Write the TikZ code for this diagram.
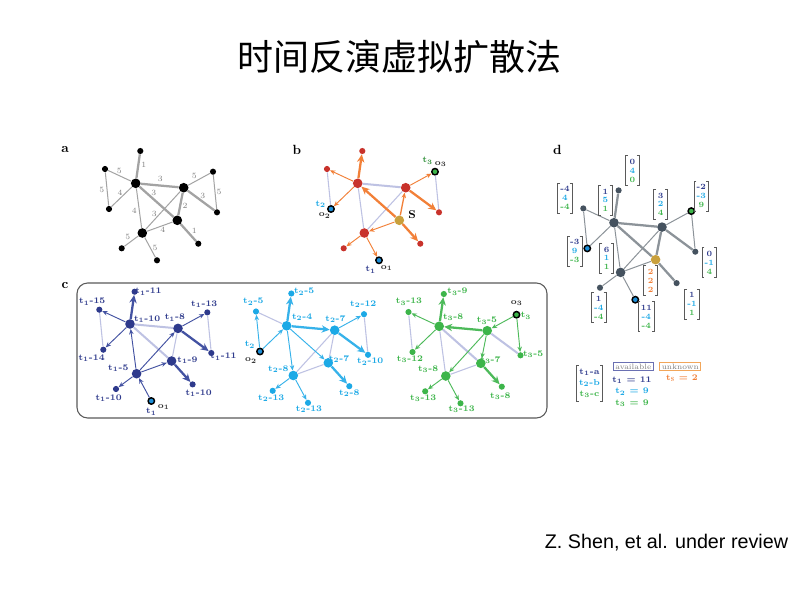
\documentclass[tikz,border=0pt]{standalone}
\usepackage{fontspec}
\newfontfamily\cjkf{Noto Sans CJK SC}
\newfontfamily\arialf{Liberation Sans}
\usetikzlibrary{arrows.meta}
\definecolor{cdb}{HTML}{2E3A8C}
\definecolor{cdbl}{HTML}{4352A2}
\definecolor{clb}{HTML}{1CA9E6}
\definecolor{clbl}{HTML}{36B2EA}
\definecolor{cgr}{HTML}{3DB54A}
\definecolor{cgrl}{HTML}{4DBA5A}
\definecolor{corg}{HTML}{F28038}
\definecolor{cred}{HTML}{C8322B}
\definecolor{cgold}{HTML}{C9A03C}
\definecolor{clav}{HTML}{BEC2E3}
\definecolor{cslate}{HTML}{45525F}
\definecolor{cgray}{HTML}{A3A3A3}
\definecolor{cdgray}{HTML}{8C9399}
\definecolor{cobs}{HTML}{1E8FD8}
\definecolor{cbox}{HTML}{5A5A5A}
\definecolor{cavail}{HTML}{6A70B2}
\definecolor{cunk}{HTML}{F2A65A}
\newcommand\ca[1]{\textcolor{cdb}{#1}}
\newcommand\cb[1]{\textcolor{clb}{#1}}
\newcommand\cc[1]{\textcolor{cgr}{#1}}
\newcommand\tl[2]{t$_{#1}$-#2}
\newcommand\mkc[1]{%
 \coordinate (#1-T) at (140.3,151);
 \coordinate (#1-LT) at (105,169);
 \coordinate (#1-LB) at (109,209);
 \coordinate (#1-A) at (135.7,183.3);
 \coordinate (#1-B) at (183.7,187.7);
 \coordinate (#1-RT) at (213,171.7);
 \coordinate (#1-RB) at (217,212.3);
 \coordinate (#1-C) at (177.3,220.3);
 \coordinate (#1-D) at (142.3,233);
 \coordinate (#1-BR) at (198.3,243.7);
 \coordinate (#1-BL) at (121.7,248.3);
 \coordinate (#1-BO) at (157,260.3);
}
\newcommand\vecn[3]{%
 \node[vecb] (#1) at (#2) {#3};
 \draw[brk] ([xshift=1.8pt]#1.north west) -| (#1.south west) -- ([xshift=1.8pt]#1.south west);
 \draw[brk] ([xshift=-1.8pt]#1.north east) -| (#1.south east) -- ([xshift=-1.8pt]#1.south east);
}
\tikzset{
 nb/.style={circle, fill=#1, minimum size=7.2pt, inner sep=0pt},
 ns/.style={circle, fill=#1, minimum size=4.6pt, inner sep=0pt},
 obs/.style={circle, fill=#1, draw=black, line width=1.1pt, minimum size=4.8pt, inner sep=0pt},
 arr/.style={draw=#1, line width=0.7pt, -{Stealth[length=4pt,width=3.4pt]}},
 tarr/.style={draw=#1, line width=1.7pt, -{Stealth[length=6pt,width=5.5pt]}},
 lav/.style={draw=clav, line width=0.8pt},
 lavt/.style={draw=clav, line width=1.5pt},
 ge/.style={draw=#1, line width=0.75pt},
 get/.style={draw=#1, line width=1.7pt},
 elab/.style={text=gray, font=\fontsize{6}{6.5}\selectfont, inner sep=0pt},
 plab/.style={font=\bfseries\fontsize{10}{11}\selectfont, inner sep=0pt},
 tlab/.style={text=#1, font=\bfseries\boldmath\fontsize{6.4}{7}\selectfont, inner sep=0pt},
 vecb/.style={align=center, inner xsep=1.8pt, inner ysep=1.2pt, minimum width=10pt, minimum height=22pt, font=\bfseries\fontsize{6}{6.7}\selectfont},
 brk/.style={draw=cbox, line width=0.6pt},
}
\begin{document}
\begin{tikzpicture}[x=0.75pt,y=-0.75pt]
\useasboundingbox (0,0) rectangle (800,600);
\fill[white] (0,0) rectangle (800,600);
\node[font=\cjkf\fontsize{27}{30}\selectfont, inner sep=0pt] (title) at (399,57) {时间反演虚拟扩散法};
\node[font=\arialf\fontsize{14.8}{17}\selectfont, inner sep=0pt] (ref) at (666.5,543) {Z. Shen, et al. under review};

% coordinates
\mkc{a}
\begin{scope}[shift={(222,0)}]\mkc{b}\end{scope}
\begin{scope}[shift={(-5.7,140.7)}]\mkc{c1}\end{scope}
\begin{scope}[shift={(151,142.5)}]\mkc{c2}\end{scope}
\begin{scope}[shift={(303.5,143)}]\mkc{c3}\end{scope}
\begin{scope}[shift={(478.3,39.4)}]\mkc{d}\end{scope}

% panel letters
\node[plab] (pa) at (65,150) {a};
\node[plab] (pb) at (297,150) {b};
\node[plab] (pc) at (65,286) {c};
\node[plab] (pd) at (557.5,150) {d};

% ===== panel a =====
\foreach \n in {T,LT,LB,RT,RB,BR,BL,BO} \node[ns=black] (a\n) at (a-\n) {};
\foreach \n in {A,B,C,D} \node[nb=black] (a\n) at (a-\n) {};
\draw[get=cgray] (aA) -- (aT);
\draw[ge=cgray] (aA) -- (aLT);
\draw[ge=cgray] (aLT) -- (aLB);
\draw[ge=cgray] (aA) -- (aLB);
\draw[get=cgray] (aA) -- (aB);
\draw[get=cgray] (aA) -- (aC);
\draw[ge=cgray] (aA) -- (aD);
\draw[ge=cgray] (aB) -- (aRT);
\draw[ge=cgray] (aRT) -- (aRB);
\draw[get=cgray] (aB) -- (aRB);
\draw[get=cgray] (aB) -- (aC);
\draw[ge=cgray] (aB) -- (aD);
\draw[ge=cgray] (aC) -- (aD);
\draw[get=cgray] (aC) -- (aBR);
\draw[ge=cgray] (aD) -- (aBL);
\draw[ge=cgray] (aD) -- (aBO);
\node[elab] (la1) at (143.7,165) {1};
\node[elab] (la2) at (119.3,170.7) {5};
\node[elab] (la3) at (101.7,190) {5};
\node[elab] (la4) at (120,192.3) {4};
\node[elab] (la5) at (160.3,179.3) {3};
\node[elab] (la6) at (153.7,193.3) {3};
\node[elab] (la7) at (134.3,210.7) {4};
\node[elab] (la8) at (194.3,176.3) {5};
\node[elab] (la9) at (219,191.7) {5};
\node[elab] (la10) at (202.7,196.3) {3};
\node[elab] (la11) at (185,205.7) {2};
\node[elab] (la12) at (154.3,213.7) {3};
\node[elab] (la13) at (162.7,230) {4};
\node[elab] (la14) at (194.3,230.7) {1};
\node[elab] (la15) at (127.7,237.3) {5};
\node[elab] (la16) at (155,247.7) {5};

% ===== panel b =====
\foreach \n in {T,LT,RB,BR,BL} \node[ns=cred] (b\n) at (b-\n) {};
\foreach \n in {A,B,D} \node[nb=cred] (b\n) at (b-\n) {};
\node[nb=cgold] (bC) at (b-C) {};
\node[obs=cobs] (bLB) at (b-LB) {};
\node[obs=cgr] (bRT) at (b-RT) {};
\node[obs=cobs] (bBO) at (b-BO) {};
\draw[lav] (bLT) -- (bLB);
\draw[lavt] (bA) -- (bB);
\draw[lav] (bA) -- (bD);
\draw[lav] (bB) -- (bD);
\draw[lav] (bRT) -- (bRB);
\draw[tarr=corg] (bC) -- (bA);
\draw[arr=corg, line width=1pt] (bC) -- (bB);
\draw[arr=corg] (bC) -- (bD);
\draw[tarr=corg] (bC) -- (bBR);
\draw[tarr=corg] (bA) -- (bT);
\draw[arr=corg] (bA) -- (bLT);
\draw[arr=corg] (bA) -- (bLB);
\draw[arr=corg] (bB) -- (bRT);
\draw[tarr=corg] (bB) -- (bRB);
\draw[arr=corg] (bD) -- (bBL);
\draw[arr=corg] (bD) -- (bBO);
\node[tlab=clb] (bt2) at (320.7,204.3) {t$_2$};
\node[tlab=black!80] (bo2) at (324.7,215.7) {o$_2$};
\node[tlab=cgr!80!black] (bt3) at (427.7,161) {t$_3$};
\node[tlab=black!80] (bo3) at (440.7,164) {o$_3$};
\node[tlab=cdb] (bt1) at (370.7,270) {t$_1$};
\node[tlab=black!80] (bo1) at (386.7,268.3) {o$_1$};
\node[font=\bfseries\fontsize{8.5}{9}\selectfont, inner sep=0pt] (bS) at (412,215) {S};

% ===== panel c box =====
\draw[draw=cbox, line width=0.8pt, rounded corners=8pt] (77,283) rectangle (547,418);

% ----- c1 -----
\foreach \n in {T,LT,LB,RT,RB,BR,BL} \node[ns=cdb] (c1\n) at (c1-\n) {};
\foreach \n in {A,B,C,D} \node[nb=cdb] (c1\n) at (c1-\n) {};
\node[obs=cobs] (c1BO) at (c1-BO) {};
\draw[lav] (c1LT) -- (c1LB);
\draw[lavt] (c1A) -- (c1B);
\draw[lavt] (c1A) -- (c1C);
\draw[lav] (c1B) -- (c1C);
\draw[lav] (c1RT) -- (c1RB);
\draw[arr=cdbl] (c1BO) -- (c1D);
\draw[arr=cdbl] (c1D) -- (c1BL);
\draw[arr=cdbl] (c1D) -- (c1A);
\draw[arr=cdbl] (c1D) -- (c1B);
\draw[arr=cdbl] (c1D) -- (c1C);
\draw[tarr=cdbl] (c1A) -- (c1T);
\draw[arr=cdbl] (c1A) -- (c1LT);
\draw[arr=cdbl] (c1A) -- (c1LB);
\draw[arr=cdbl] (c1B) -- (c1RT);
\draw[tarr=cdbl] (c1B) -- (c1RB);
\draw[tarr=cdbl] (c1C) -- (c1BR);
\node[tlab=cdb] (l1a) at (148.5,291.7) {\tl{1}{11}};
\node[tlab=cdb] (l1b) at (92.3,301.7) {\tl{1}{15}};
\node[tlab=cdb] (l1c) at (147.2,319.3) {\tl{1}{10}};
\node[tlab=cdb] (l1d) at (175,317.7) {\tl{1}{8}};
\node[tlab=cdb] (l1e) at (204.3,304) {\tl{1}{13}};
\node[tlab=cdb] (l1f) at (91.7,358.3) {\tl{1}{14}};
\node[tlab=cdb] (l1g) at (223.5,356.7) {\tl{1}{11}};
\node[tlab=cdb] (l1h) at (187.5,360) {\tl{1}{9}};
\node[tlab=cdb] (l1i) at (118.3,368.3) {\tl{1}{5}};
\node[tlab=cdb] (l1j) at (108.7,398.3) {\tl{1}{10}};
\node[tlab=cdb] (l1k) at (198.7,393.3) {\tl{1}{10}};
\node[tlab=cdb] (l1t) at (151.3,411.7) {t$_1$};
\node[tlab=black!80] (l1o) at (163.7,407.3) {o$_1$};

% ----- c2 -----
\foreach \n in {T,LT,RT,RB,BR,BL,BO} \node[ns=clb] (c2\n) at (c2-\n) {};
\foreach \n in {A,B,C,D} \node[nb=clb] (c2\n) at (c2-\n) {};
\node[obs=cobs] (c2LB) at (c2-LB) {};
\draw[lav] (c2LT) -- (c2A);
\draw[lav] (c2RT) -- (c2RB);
\draw[lav] (c2B) -- (c2C);
\draw[lav] (c2B) -- (c2D);
\draw[lav] (c2C) -- (c2D);
\draw[arr=clbl] (c2LB) -- (c2A);
\draw[arr=clbl] (c2LB) -- (c2LT);
\draw[tarr=clbl] (c2A) -- (c2T);
\draw[tarr=clbl] (c2A) -- (c2B);
\draw[arr=clbl] (c2A) -- (c2C);
\draw[arr=clbl] (c2A) -- (c2D);
\draw[arr=clbl] (c2B) -- (c2RT);
\draw[tarr=clbl] (c2B) -- (c2RB);
\draw[tarr=clbl] (c2C) -- (c2BR);
\draw[arr=clbl] (c2D) -- (c2BL);
\draw[arr=clbl] (c2D) -- (c2BO);
\node[tlab=clb] (l2a) at (304.2,291.7) {\tl{2}{5}};
\node[tlab=clb] (l2b) at (253.3,301.7) {\tl{2}{5}};
\node[tlab=clb] (l2c) at (302.2,317.3) {\tl{2}{4}};
\node[tlab=clb] (l2d) at (335.5,319.3) {\tl{2}{7}};
\node[tlab=clb] (l2e) at (363.3,304) {\tl{2}{12}};
\node[tlab=clb] (l2f) at (370.3,361.7) {\tl{2}{10}};
\node[tlab=clb] (l2g) at (339.2,359.3) {\tl{2}{7}};
\node[tlab=clb] (l2h) at (278.3,369.3) {\tl{2}{8}};
\node[tlab=clb] (l2i) at (271.3,398.3) {\tl{2}{13}};
\node[tlab=clb] (l2j) at (309,409.3) {\tl{2}{13}};
\node[tlab=clb] (l2k) at (349.3,393.3) {\tl{2}{8}};
\node[tlab=clb] (l2t) at (250,345) {t$_2$};
\node[tlab=black!80] (l2o) at (251,360.5) {o$_2$};

% ----- c3 -----
\foreach \n in {T,LT,LB,RB,BR,BL,BO} \node[ns=cgr] (c3\n) at (c3-\n) {};
\foreach \n in {A,B,C,D} \node[nb=cgr] (c3\n) at (c3-\n) {};
\node[obs=cgr] (c3RT) at (c3-RT) {};
\draw[lavt] (c3B) -- (c3RB);
\draw[lav] (c3LT) -- (c3LB);
\draw[lavt] (c3A) -- (c3C);
\draw[lav] (c3A) -- (c3D);
\draw[lav] (c3C) -- (c3D);
\draw[arr=cgrl] (c3RT) -- (c3B);
\draw[arr=cgrl] (c3RT) -- (c3RB);
\draw[tarr=cgrl] (c3B) -- (c3A);
\draw[arr=cgrl] (c3B) -- (c3C);
\draw[arr=cgrl] (c3B) -- (c3D);
\draw[tarr=cgrl] (c3A) -- (c3T);
\draw[arr=cgrl] (c3A) -- (c3LT);
\draw[arr=cgrl] (c3A) -- (c3LB);
\draw[tarr=cgrl] (c3C) -- (c3BR);
\draw[arr=cgrl] (c3D) -- (c3BL);
\draw[arr=cgrl] (c3D) -- (c3BO);
\node[tlab=cgr] (l3a) at (457.5,291.7) {\tl{3}{9}};
\node[tlab=cgr] (l3b) at (409,301.7) {\tl{3}{13}};
\node[tlab=cgr] (l3c) at (453.2,317.3) {\tl{3}{8}};
\node[tlab=cgr] (l3d) at (487,320.7) {\tl{3}{5}};
\node[tlab=cgr] (l3e) at (533.2,354) {\tl{3}{5}};
\node[tlab=cgr] (l3f) at (410,359.3) {\tl{3}{12}};
\node[tlab=cgr] (l3g) at (490.5,360) {\tl{3}{7}};
\node[tlab=cgr] (l3h) at (428.2,369.3) {\tl{3}{8}};
\node[tlab=cgr] (l3i) at (423.3,398.3) {\tl{3}{13}};
\node[tlab=cgr] (l3j) at (461.7,409.3) {\tl{3}{13}};
\node[tlab=cgr] (l3k) at (500.3,396) {\tl{3}{8}};
\node[tlab=black!80] (l3o) at (516.7,303.3) {o$_3$};
\node[tlab=cgr] (l3t) at (526,316) {t$_3$};

% ===== panel d =====
\foreach \n in {T,LT,RB,BR,BL} \node[ns=cslate] (d\n) at (d-\n) {};
\foreach \n in {A,B,D} \node[nb=cslate] (d\n) at (d-\n) {};
\node[nb=cgold] (dC) at (d-C) {};
\node[obs=cobs] (dLB) at (d-LB) {};
\node[obs=cgr] (dRT) at (d-RT) {};
\node[obs=cobs] (dBO) at (d-BO) {};
\draw[get=cdgray] (dA) -- (dT);
\draw[ge=cdgray] (dA) -- (dLT);
\draw[ge=cdgray] (dLT) -- (dLB);
\draw[ge=cdgray] (dA) -- (dLB);
\draw[get=cdgray] (dA) -- (dB);
\draw[get=cdgray] (dA) -- (dC);
\draw[ge=cdgray] (dA) -- (dD);
\draw[ge=cdgray] (dB) -- (dRT);
\draw[ge=cdgray] (dRT) -- (dRB);
\draw[get=cdgray] (dB) -- (dRB);
\draw[get=cdgray] (dB) -- (dC);
\draw[ge=cdgray] (dB) -- (dD);
\draw[ge=cdgray] (dC) -- (dD);
\draw[get=cdgray] (dC) -- (dBR);
\draw[ge=cdgray] (dD) -- (dBL);
\draw[ge=cdgray] (dD) -- (dBO);
\vecn{v1}{632.3,170.7}{\ca{0}\\\cb{4}\\\cc{0}}
\vecn{v2}{565,198}{\ca{-4}\\\cb{4}\\\cc{-4}}
\vecn{v3}{605.3,200.3}{\ca{1}\\\cb{5}\\\cc{1}}
\vecn{v4}{660.7,204.3}{\ca{3}\\\cb{2}\\\cc{4}}
\vecn{v5}{701.3,196}{\ca{-2}\\\cb{-3}\\\cc{9}}
\vecn{v6}{574.7,251}{\ca{-3}\\\cb{9}\\\cc{-3}}
\vecn{v7}{606.7,258.3}{\ca{6}\\\cb{1}\\\cc{1}}
\vecn{v8}{709.3,262.7}{\ca{0}\\\cb{-1}\\\cc{4}}
\vecn{v9}{650.7,280.7}{\textcolor{corg}{2}\\\textcolor{corg}{2}\\\textcolor{corg}{2}}
\vecn{v10}{598.7,307.7}{\ca{1}\\\cb{-4}\\\cc{-4}}
\vecn{v11}{646.3,316.7}{\ca{11}\\\cb{-4}\\\cc{-4}}
\vecn{v12}{692,304}{\ca{1}\\\cb{-1}\\\cc{1}}

% ===== legend =====
\begin{scope}[vecb/.append style={minimum width=15pt, minimum height=27pt, font=\bfseries\boldmath\fontsize{6.4}{8.2}\selectfont}]
\vecn{vl}{589.5,383.3}{\ca{t$_1$-a}\\\cb{t$_2$-b}\\\cc{t$_3$-c}}
\end{scope}
\node[draw=cavail, line width=0.7pt, text=gray, font=\fontsize{5.8}{6}\selectfont, inner xsep=1.5pt, inner ysep=1pt] (avail) at (633.3,366.7) {available};
\node[draw=cunk, line width=0.7pt, text=gray, font=\fontsize{5.8}{6}\selectfont, inner xsep=1.5pt, inner ysep=1pt] (unk) at (680.3,366.7) {unknown};
\node[tlab=cdb] (lg1) at (632,380) {t$_1$ = 11};
\node[tlab=clb] (lg2) at (632,391.7) {t$_2$ = 9};
\node[tlab=cgr] (lg3) at (632,403.3) {t$_3$ = 9};
\node[tlab=corg] (lgs) at (682,378.3) {t$_\mathrm{S}$ = 2};
\end{tikzpicture}
\end{document}
